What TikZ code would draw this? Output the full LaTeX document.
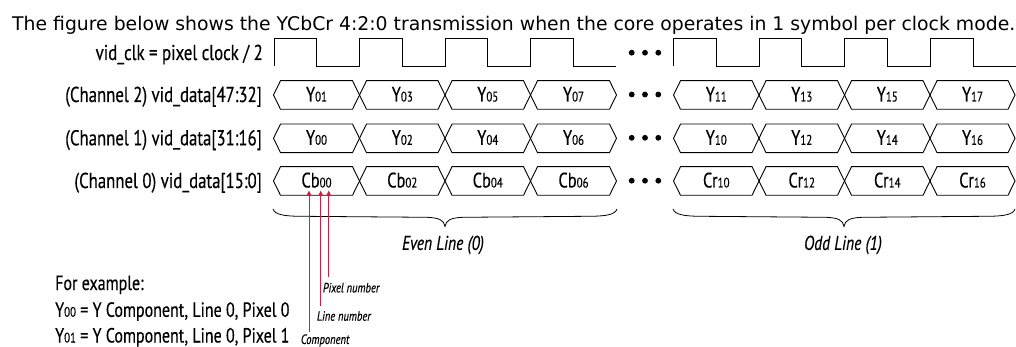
\documentclass[tikz,border=0pt]{standalone}
\usepackage{graphicx}
\usepackage{fontspec}
\setmainfont{PT Sans}
\newfontfamily\cnd[FakeStretch=0.78,FakeBold=0.35]{PT Sans}
\newfontfamily\ttlfont{DejaVu Sans}
\usetikzlibrary{arrows.meta}
\definecolor{arrowred}{HTML}{D9193F}
\tikzset{
  sig/.style={line width=0.9pt, line join=miter},
  bracepath/.style={line width=0.8pt},
  lbl/.style={font=\cnd\fontsize{21.5}{24}\selectfont, anchor=base east, inner sep=0pt},
  dat/.style={font=\cnd\fontsize{21}{24}\selectfont, anchor=base, inner sep=0pt},
  note/.style={font=\cnd\itshape\fontsize{13.5}{15}\selectfont, anchor=west, inner sep=0pt},
  grp/.style={font=\cnd\itshape\fontsize{20}{22}\selectfont, anchor=center, inner sep=0pt},
  expl/.style={font=\cnd\fontsize{20.5}{24}\selectfont, anchor=base west, inner sep=0pt},
  redarrow/.style={draw=arrowred, line width=0.9pt, -{Triangle[length=5pt,width=4.5pt]}},
}
\newcommand{\dsub}[1]{{\fontsize{14}{16}\selectfont #1}}
\newcommand{\seg}[5]{%
  \draw[sig] (#1,#3) -- ({#1+7},{#3-14.3}) -- ({#2-7},{#3-14.3}) -- (#2,#3)
     -- ({#2-7},{#3+14.3}) -- ({#1+7},{#3+14.3}) -- cycle;
  \node[dat] (#4) at ({(#1+#2)/2},{#3+6.5}) {#5};}
\newcommand{\mybrace}[3]{% x1 x2 mid
  \draw[bracepath] (#1,209) .. controls ({#1+2},215) and ({#1+12},216.3) .. ({#1+30},216.3)
     -- ({#3-18},217.3) .. controls ({#3-6},217.8) and ({#3-1},220) .. (#3,226.5)
     .. controls ({#3+1},220) and ({#3+6},217.8) .. ({#3+18},217.3)
     -- ({#2-30},216.3) .. controls ({#2-12},216.3) and ({#2-2},215) .. (#2,209);}
\begin{document}
\begin{tikzpicture}[x=1pt,y=-1pt]
\useasboundingbox (0,0) rectangle (1016,347);

% title
\node[anchor=base west, inner sep=0pt] (title) at (12,31)
  {\resizebox{1003pt}{!}{\ttlfont\fontsize{16}{18}\selectfont The figure below shows the YCbCr 4:2:0 transmission when the core operates in 1 symbol per clock mode.}};

% left labels
\node[lbl] (clk) at (263,60) {vid\_clk = pixel clock / 2};
\node[lbl] (ch2) at (262,102) {(Channel 2) vid\_data[47:32]};
\node[lbl] (ch1) at (262,145.3) {(Channel 1) vid\_data[31:16]};
\node[lbl] (ch0) at (262,188) {(Channel 0) vid\_data[15:0]};

% clock
\draw[sig] (274,66) -- (274,38) -- (316.75,38) -- (316.75,66) -- (359.5,66) -- (359.5,38)
  -- (402.25,38) -- (402.25,66) -- (445,66) -- (445,38) -- (487.75,38) -- (487.75,66)
  -- (530.5,66) -- (530.5,38) -- (573.25,38) -- (573.25,66) -- (616,66);
\draw[sig] (673.5,66) -- (673.5,38) -- (716.3,38) -- (716.3,66) -- (759.1,66) -- (759.1,38)
  -- (801.9,38) -- (801.9,66) -- (844.7,66) -- (844.7,38) -- (887.5,38) -- (887.5,66)
  -- (930.3,66) -- (930.3,38) -- (973.1,38) -- (973.1,66) -- (1017,66);

% channel 2
\seg{273.5}{359.5}{95}{a1}{Y\dsub{01}}
\seg{359.5}{445}{95}{a2}{Y\dsub{03}}
\seg{445}{530.5}{95}{a3}{Y\dsub{05}}
\seg{530.5}{616.5}{95}{a4}{Y\dsub{07}}
\seg{673.5}{759}{95}{a5}{Y\dsub{11}}
\seg{759}{844.5}{95}{a6}{Y\dsub{13}}
\seg{844.5}{930}{95}{a7}{Y\dsub{15}}
\seg{930}{1015}{95}{a8}{Y\dsub{17}}
% channel 1
\seg{273.5}{359.5}{138.3}{b1}{Y\dsub{00}}
\seg{359.5}{445}{138.3}{b2}{Y\dsub{02}}
\seg{445}{530.5}{138.3}{b3}{Y\dsub{04}}
\seg{530.5}{616.5}{138.3}{b4}{Y\dsub{06}}
\seg{673.5}{759}{138.3}{b5}{Y\dsub{10}}
\seg{759}{844.5}{138.3}{b6}{Y\dsub{12}}
\seg{844.5}{930}{138.3}{b7}{Y\dsub{14}}
\seg{930}{1015}{138.3}{b8}{Y\dsub{16}}
% channel 0
\seg{273.5}{359.5}{181}{c1}{Cb\dsub{00}}
\seg{359.5}{445}{181}{c2}{Cb\dsub{02}}
\seg{445}{530.5}{181}{c3}{Cb\dsub{04}}
\seg{530.5}{616.5}{181}{c4}{Cb\dsub{06}}
\seg{673.5}{759}{181}{c5}{Cr\dsub{10}}
\seg{759}{844.5}{181}{c6}{Cr\dsub{12}}
\seg{844.5}{930}{181}{c7}{Cr\dsub{14}}
\seg{930}{1015}{181}{c8}{Cr\dsub{16}}

% ellipsis dots
\foreach \yy in {52.7,94.5,137.8,180.7}
  \foreach \xx in {631.7,645,658.3}
    \fill (\xx,\yy) circle (2.9);

% braces
\mybrace{273}{617}{445}
\mybrace{673}{1015}{844}
\node[grp] (even) at (443,245) {Even Line (0)};
\node[grp] (odd) at (843,245) {Odd Line (1)};

% annotation labels and arrows
\node[note] (pix) at (322.7,287.7) {Pixel number};
\node[note] (line) at (316.7,316) {Line number};
\node[note] (comp) at (300.7,340.5) {Component};
\coordinate (pixFrom) at (328.7,277);
\coordinate (lineFrom) at (320.7,306);
\coordinate (compFrom) at (309,332);
\coordinate (pixTo) at (328.7,190.5);
\coordinate (lineTo) at (320.7,190.5);
\coordinate (compTo) at (309,190.5);
\draw[redarrow] (pixFrom) -- (pixTo);
\draw[redarrow] (lineFrom) -- (lineTo);
\draw[redarrow] (compFrom) -- (compTo);

% example text
\node[expl] (ex0) at (55,290) {For example:};
\node[expl] (ex1) at (55,316.8) {Y\dsub{00} = Y Component, Line 0, Pixel 0};
\node[expl] (ex2) at (55,342.5) {Y\dsub{01} = Y Component, Line 0, Pixel 1};
\end{tikzpicture}
\end{document}
